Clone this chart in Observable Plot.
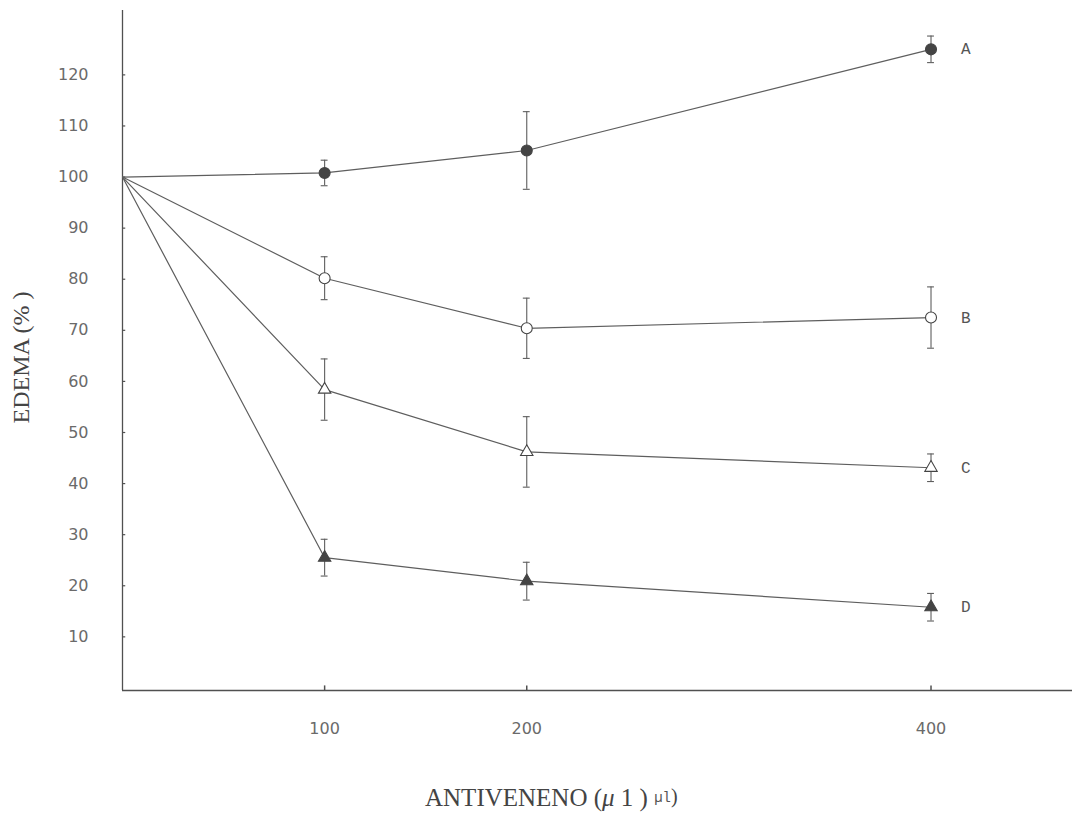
<!DOCTYPE html>
<html>
<head>
<meta charset="utf-8">
<script src="https://cdn.jsdelivr.net/npm/d3@7"></script>
<script src="https://cdn.jsdelivr.net/npm/@observablehq/plot@0.6"></script>
<style>
  body { margin: 0; background: #fff; position: relative; width: 1079px; height: 821px; overflow: hidden; }
  #xlabel { position: absolute; left: 425px; top: 785px; font-family: "Liberation Serif", serif; font-size: 25px; line-height: 1; color: #444; white-space: nowrap; }
  #xlabel .u { font-family: "Liberation Mono", monospace; font-size: 14px; vertical-align: 4px; color: #555; }
  #xlabel .p { font-size: 20px; vertical-align: 3px; }
</style>
</head>
<body>
<div id="chart"></div>
<div id="xlabel">ANTIVENENO (<i>μ</i> 1 ) <span class="u">µl</span><span class="p">)</span></div>
<script>
// Doses of antivenom (µl)
const doses = [0, 100, 200, 400];
const seriesNames = ["A", "B", "C", "D"];
// Edema (%) means per series
const valuesA = [100, 100.8, 105.2, 125];
const valuesB = [100, 80.2, 70.4, 72.5];
const valuesC = [100, 58.4, 46.2, 43.1];
const valuesD = [100, 25.5, 20.9, 15.8];
// error half-widths (0 = no bar)
const errA = [0, 2.5, 7.6, 2.6];
const errB = [0, 4.2, 5.9, 6.0];
const errC = [0, 6.0, 6.9, 2.7];
const errD = [0, 3.6, 3.7, 2.7];
const yTicks = [10, 20, 30, 40, 50, 60, 70, 80, 90, 100, 110, 120];
const xTicks = [100, 200, 400];
const symbols = {A: "circle", B: "circle", C: "triangle", D: "triangle"};
const fills = {A: "#444", B: "#fff", C: "#fff", D: "#444"};
const sizes = {A: 5.5, B: 5.5, C: 4.6, D: 4.6};

const allValues = [valuesA, valuesB, valuesC, valuesD];
const allErr = [errA, errB, errC, errD];
const rows = [];
seriesNames.forEach((s, i) => {
  doses.forEach((d, j) => {
    rows.push({series: s, dose: d, value: allValues[i][j], err: allErr[i][j]});
  });
});
const errRows = rows.filter(r => r.err > 0);
const markerRows = rows.filter(r => r.dose > 0);
const lastRows = rows.filter(r => r.dose === 400);
const ink = "#505050";
const cap = 1.7;

const plot = Plot.plot({
  width: 1079,
  height: 770,
  marginLeft: 122,
  marginRight: 7,
  marginTop: 10,
  marginBottom: 80,
  style: {fontFamily: "'DejaVu Sans', sans-serif", fontSize: "16px", background: "#fff", color: "#666"},
  x: {domain: [0, 470]},
  y: {domain: [-0.5, 132.6]},
  r: {type: "identity"},
  marks: [
    Plot.axisY({ticks: yTicks, tickSize: 0, tickPadding: 34, fill: "#6a6a6a", fontSize: 16, label: null}),
    Plot.axisX({ticks: xTicks, tickSize: 0, tickPadding: 32, fill: "#6a6a6a", fontSize: 16, label: null}),
    Plot.ruleX([0], {stroke: ink, strokeWidth: 1.3}),
    Plot.ruleY([-0.5], {stroke: ink, strokeWidth: 1.3}),
    Plot.ruleY(yTicks, {x1: 0, x2: 1.6, stroke: ink, strokeWidth: 1.2}),
    Plot.ruleX(xTicks, {y1: -0.5, y2: 0.4, stroke: ink, strokeWidth: 1.5}),
    Plot.line(rows, {x: "dose", y: "value", z: "series", stroke: "#5e5e5e", strokeWidth: 1.2}),
    Plot.ruleX(errRows, {x: "dose", y1: d => d.value - d.err, y2: d => d.value + d.err, stroke: "#5e5e5e", strokeWidth: 1.1}),
    Plot.ruleY(errRows, {y: d => d.value + d.err, x1: d => d.dose - cap, x2: d => d.dose + cap, stroke: "#5e5e5e", strokeWidth: 1.1}),
    Plot.ruleY(errRows, {y: d => d.value - d.err, x1: d => d.dose - cap, x2: d => d.dose + cap, stroke: "#5e5e5e", strokeWidth: 1.1}),
    Plot.dot(markerRows, {x: "dose", y: "value", symbol: d => symbols[d.series], fill: d => fills[d.series], stroke: "#444", strokeWidth: 1.1, r: d => sizes[d.series]}),
    Plot.text(lastRows, {x: "dose", y: "value", text: "series", dx: 30, textAnchor: "start", fontFamily: "'Liberation Mono', monospace", fontSize: 16, fill: "#555"}),
    Plot.text(["EDEMA (% )"], {frameAnchor: "left", textAnchor: "middle", dx: -101, dy: 7, rotate: -90, fontFamily: "'Liberation Serif', serif", fontSize: 24, fill: "#444"})
  ]
});
plot.setAttribute("symbol", null);
document.getElementById("chart").appendChild(plot);
</script>
</body>
</html>
